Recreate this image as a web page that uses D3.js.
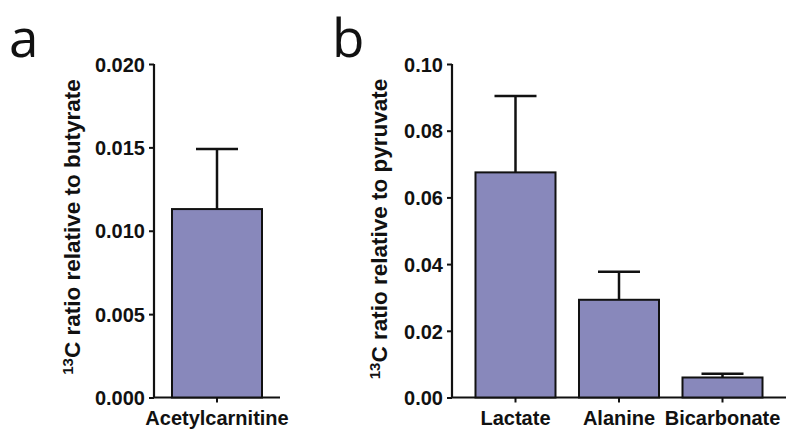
<!DOCTYPE html>
<html><head><meta charset="utf-8">
<script src="https://cdn.jsdelivr.net/npm/d3@7"></script>
<style>
html,body{margin:0;padding:0;background:#fff;}
text{font-family:"Liberation Sans",Arial,sans-serif;font-weight:bold;fill:#111;}
</style></head>
<body><svg id="c" width="800" height="441"></svg>
<script>
// Panel a
const catsA = ["Acetylcarnitine"];
const meanA = [0.0113];
const errA = [0.0149];
const ticksA = [0, 0.005, 0.010, 0.015, 0.020];
// Panel b
const catsB = ["Lactate", "Alanine", "Bicarbonate"];
const meanB = [0.0675, 0.0293, 0.0060];
const errB = [0.0904, 0.0377, 0.0071];
const ticksB = [0, 0.02, 0.04, 0.06, 0.08, 0.10];

const svg = d3.select("#c");
const fill = "#8888bb";

function panel(cfg){
  const g = svg.append("g");
  const y = d3.scaleLinear().domain(cfg.ydom).range([397.5, 64]);
  const x = d3.scaleBand().domain(cfg.cats).range([cfg.x0, cfg.x1])
    .paddingInner(cfg.pi).paddingOuter(cfg.po);
  // y axis
  const ya = g.append("g").attr("transform", `translate(${cfg.x0},0)`)
    .call(d3.axisLeft(y).tickValues(cfg.ticks).tickFormat(d3.format(cfg.fmt)).tickSize(5).tickPadding(4));
  ya.select(".domain").attr("stroke","#111").attr("stroke-width",2.2).attr("d",`M0,${y.range()[1]}V${y.range()[0]}`);
  ya.selectAll(".tick line").attr("stroke","#111").attr("stroke-width",2);
  ya.selectAll(".tick text").style("font-size","20px").attr("dy","0.36em");
  // x axis
  const xa = g.append("g").attr("transform", `translate(0,${y(0)})`)
    .call(d3.axisBottom(x).tickSize(5).tickPadding(7));
  xa.select(".domain").attr("stroke","#111").attr("stroke-width",2.2).attr("d",`M${cfg.x0},0H${cfg.x1}`);
  xa.selectAll(".tick line").attr("stroke","#111").attr("stroke-width",2);
  xa.selectAll(".tick text").style("font-size","20px").attr("dy","0.75em");
  // error bars
  const capW = 42;
  cfg.cats.forEach((c,i)=>{
    const cx = x(c) + x.bandwidth()/2;
    g.append("line").attr("x1",cx).attr("x2",cx).attr("y1",y(cfg.mean[i])).attr("y2",y(cfg.err[i]))
      .attr("stroke","#111").attr("stroke-width",2.5);
    g.append("line").attr("x1",cx-capW/2).attr("x2",cx+capW/2).attr("y1",y(cfg.err[i])).attr("y2",y(cfg.err[i]))
      .attr("stroke","#111").attr("stroke-width",2.5);
  });
  // bars
  g.selectAll("rect.bar").data(cfg.cats).join("rect").attr("class","bar")
    .attr("x", d=>x(d)).attr("width", x.bandwidth())
    .attr("y", (d,i)=>y(cfg.mean[i])).attr("height",(d,i)=>y(0)-y(cfg.mean[i]))
    .attr("fill",fill).attr("stroke","#111").attr("stroke-width",2);
  // y label
  const lbl = g.append("text").attr("transform",`translate(${cfg.lx},${cfg.ly}) rotate(-90)`)
    .attr("text-anchor","middle").style("font-size","22.5px");
  lbl.append("tspan").text("13").style("font-size","15px").attr("dy","-0.5em");
  lbl.append("tspan").text("C").attr("dy","0.33em");
  lbl.append("tspan").text(" ratio relative to " + cfg.ref);
  // panel letter
  svg.append("text").attr("x",cfg.px).attr("y",57).text(cfg.letter)
    .style("font-family","'Open Sans','Noto Sans',sans-serif").style("font-weight","normal").style("font-size","53px");
}

panel({cats:catsA, mean:meanA, err:errA, ticks:ticksA, ydom:[0,0.02], fmt:".3f",
  x0:154, x1:280, pi:0, po:0.2, lx:80, ly:227, ref:"butyrate", letter:"a", px:9});
panel({cats:catsB, mean:meanB, err:errB, ticks:ticksB, ydom:[0,0.10], fmt:".2f",
  x0:452, x1:786, pi:0.227, po:0.227, lx:387, ly:229, ref:"pyruvate", letter:"b", px:332});
</script></body></html>
